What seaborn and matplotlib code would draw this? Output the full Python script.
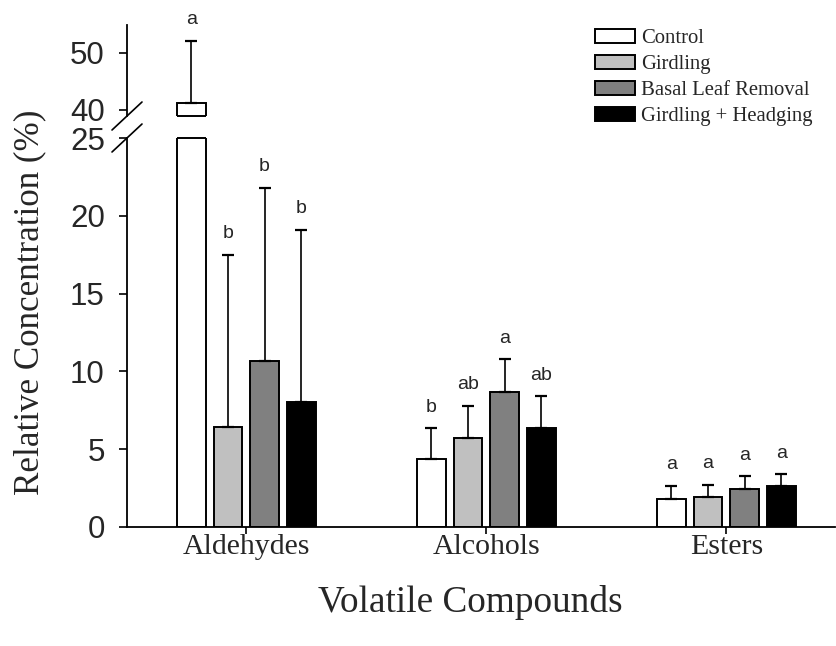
import numpy as np
import pandas as pd
import matplotlib
matplotlib.use("Agg")
import matplotlib.pyplot as plt
import seaborn as sns

# Data: mean relative concentration (%) and upper standard error
compounds = ["Aldehydes", "Alcohols", "Esters"]
treatments = ["Control", "Girdling", "Basal Leaf Removal", "Girdling + Headging"]
colors = ["#ffffff", "#c0c0c0", "#808080", "#000000"]

control_mean = [41.2, 4.35, 1.82]
girdling_mean = [6.4, 5.75, 1.93]
leaf_removal_mean = [10.7, 8.7, 2.42]
headging_mean = [8.05, 6.35, 2.62]

control_err = [10.9, 2.0, 0.83]
girdling_err = [11.1, 2.05, 0.77]
leaf_removal_err = [11.1, 2.07, 0.84]
headging_err = [11.05, 2.06, 0.76]

control_letters = ["a", "b", "a"]
girdling_letters = ["b", "ab", "a"]
leaf_removal_letters = ["b", "a", "a"]
headging_letters = ["b", "ab", "a"]

means = [control_mean, girdling_mean, leaf_removal_mean, headging_mean]
errs = [control_err, girdling_err, leaf_removal_err, headging_err]
letters = [control_letters, girdling_letters, leaf_removal_letters, headging_letters]

df = pd.DataFrame({
    "Compound": np.repeat([compounds], len(treatments), axis=0).ravel(),
    "Treatment": np.repeat(treatments, len(compounds)),
    "Value": np.concatenate(means),
})

sns.set_theme(style="white")
plt.rcParams["font.family"] = ["Liberation Sans", "DejaVu Sans"]
SERIF = ["Liberation Serif", "DejaVu Serif"]

W, H = 837, 646
fig = plt.figure(figsize=(W / 100, H / 100), dpi=100)
left, right = 127 / W, 835 / W
ax_top = fig.add_axes([left, 1 - 116 / H, right - left, (116 - 25) / H])
ax_bot = fig.add_axes([left, 1 - 527 / H, right - left, (527 - 138) / H])

LOW_LIM = (0, 25)
HIGH_LIM = (38.9, 54.9)

for ax in (ax_top, ax_bot):
    sns.barplot(data=df, x="Compound", y="Value", hue="Treatment",
                order=compounds, hue_order=treatments, palette=colors,
                width=0.61, gap=0.21, edgecolor="black", linewidth=1.4,
                errorbar=None, legend=(ax is ax_bot), ax=ax)

bar_groups = list(ax_bot.containers)

ax_top.set_ylim(*HIGH_LIM)
ax_bot.set_ylim(*LOW_LIM)
for ax in (ax_top, ax_bot):
    ax.set_xlim(-0.497, 2.453)
    ax.set_ylabel("")
    ax.set_xlabel("")
    for s in ("top", "right"):
        ax.spines[s].set_visible(False)
    ax.spines["left"].set_color("black")
    ax.spines["left"].set_linewidth(1.3)
    ax.tick_params(axis="y", direction="out", length=6, width=1.2, color="black",
                   labelsize=22.5, pad=10, left=True)

ax_top.spines["bottom"].set_visible(False)
ax_top.set_xticks([])
ax_top.set_yticks([40, 50])
ax_bot.set_yticks([0, 5, 10, 15, 20, 25])
ax_bot.spines["bottom"].set_color("black")
ax_bot.spines["bottom"].set_linewidth(1.3)
ax_bot.tick_params(axis="x", direction="out", length=5, width=1.2, color="black",
                   bottom=True, pad=0)
ax_bot.set_xticks(range(len(compounds)))
ax_bot.set_xticklabels(compounds, fontsize=21.5, family=SERIF)

# Error bars (upper only) and significance letters
for j, container in enumerate(bar_groups):
    for i, bar in enumerate(container):
        xc = bar.get_x() + bar.get_width() / 2
        m, e = means[j][i], errs[j][i]
        for ax in (ax_top, ax_bot):
            ax.errorbar(xc, m, yerr=[[0], [e]], fmt="none", ecolor="black",
                        elinewidth=1.2, capsize=4.5, capthick=1.6)
        target = ax_top if m + e > LOW_LIM[1] else ax_bot
        target.annotate(letters[j][i], (xc, m + e), xytext=(0, 9),
                        textcoords="offset points", ha="center", va="bottom",
                        fontsize=14)

# Close the broken bar at both sides of the axis break
for j, container in enumerate(bar_groups):
    for i, bar in enumerate(container):
        if means[j][i] > LOW_LIM[1]:
            x0, x1 = bar.get_x(), bar.get_x() + bar.get_width()
            ax_bot.plot([x0, x1], [LOW_LIM[1], LOW_LIM[1]], color="black",
                        lw=1.4, clip_on=False, solid_capstyle="butt")
            ax_top.plot([x0, x1], [HIGH_LIM[0], HIGH_LIM[0]], color="black",
                        lw=1.4, clip_on=False, solid_capstyle="butt")

# Axis-break marks
wpx = (835 - 127)
for ax, hpx in ((ax_top, 91), (ax_bot, 389)):
    y0 = 0 if ax is ax_top else 1
    dx, dy = 15 / wpx, 14 / hpx
    ax.plot([-dx, dx], [y0 - dy, y0 + dy], transform=ax.transAxes,
            color="black", lw=1.2, clip_on=False)

# Legend
handles, labels = ax_bot.get_legend_handles_labels()
ax_bot.get_legend().remove()
fig.legend(handles, labels, loc="upper left",
           bbox_to_anchor=(595 / W, 1 - 29 / H), frameon=False,
           prop={"family": SERIF, "size": 14.9}, handlelength=1.93,
           handleheight=0.68, handletextpad=0.29, labelspacing=0.32,
           borderpad=0, borderaxespad=0)
for h in handles:
    h.set_edgecolor("black")
    h.set_linewidth(1.4)

fig.text(30 / W, 1 - 302 / H, "Relative Concentration (%)", rotation=90,
         ha="center", va="center", fontsize=25.2, family=SERIF)
fig.text(470 / W, 1 - 603 / H, "Volatile Compounds", ha="center",
         va="center", fontsize=26.8, family=SERIF)

fig.savefig("out.png", dpi=100)
